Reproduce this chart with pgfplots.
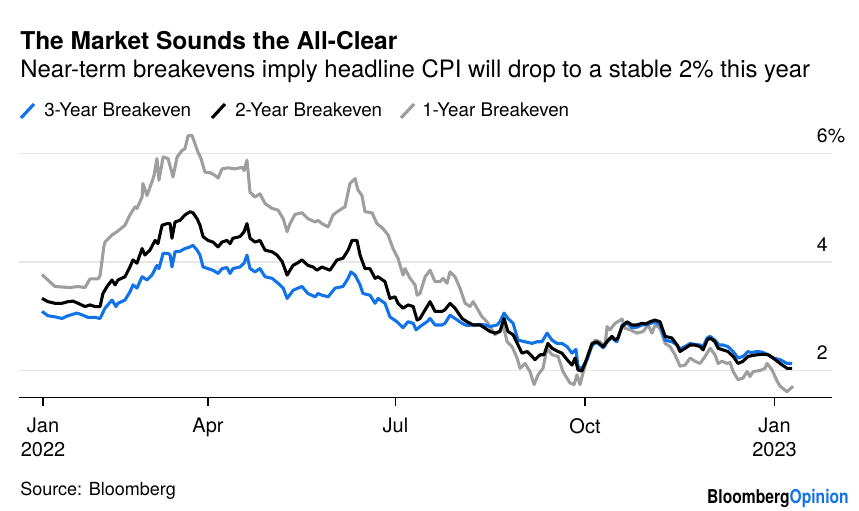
\documentclass[border=0pt]{standalone}
\usepackage{fontspec}
\setmainfont{TeX Gyre Heros}
\newfontfamily\logofont[FakeStretch=0.82]{TeX Gyre Heros}
\usepackage{pgfplots}
\pgfplotsset{compat=1.18}
\usepackage{pgfplotstable}
\definecolor{bblue}{RGB}{18,114,232}
\definecolor{bgray}{RGB}{158,158,158}
\definecolor{bgrid}{RGB}{230,230,230}

% x = days since 2022-01-01, y = breakeven (%)
\pgfplotstableread{
day rate
9.4 3.77
15.7 3.55
23.0 3.53
26.9 3.55
30.3 3.53
32.7 3.69
36.6 3.69
37.6 3.75
39.5 4.30
40.0 4.37
43.4 4.50
45.8 4.56
49.7 4.68
52.1 4.87
54.6 5.02
55.5 4.99
58.0 5.20
58.4 5.45
60.4 5.23
62.8 5.48
63.8 5.60
65.2 5.91
66.2 5.51
68.2 5.94
70.6 5.91
73.0 5.57
75.0 5.94
77.4 6.06
78.8 6.09
80.3 6.33
82.2 6.34
83.7 6.18
85.1 6.03
86.6 5.91
88.5 5.66
91.0 5.65
93.4 5.60
94.9 5.55
96.8 5.72
99.7 5.74
103.1 5.72
106.5 5.75
107.5 5.69
108.9 5.88
110.4 5.29
112.8 5.20
115.2 5.26
117.7 5.08
121.1 4.99
124.0 4.96
126.5 4.80
128.4 4.56
129.8 4.71
132.2 4.88
135.6 4.91
138.5 4.80
142.0 4.74
143.4 4.77
145.3 4.71
148.3 4.65
150.7 4.87
153.1 4.94
156.5 5.02
158.9 5.45
161.4 5.54
162.8 5.33
164.7 5.23
166.2 4.93
169.6 4.91
172.0 4.71
174.9 4.62
177.4 4.50
179.8 4.25
182.2 4.07
184.7 3.76
185.6 3.88
188.1 3.70
190.5 3.58
191.5 3.39
192.9 3.42
195.4 3.73
197.8 3.85
200.2 3.64
202.6 3.64
204.1 3.70
206.0 3.61
207.5 3.82
209.9 3.73
212.3 3.52
214.8 3.24
217.2 3.18
218.7 3.27
220.6 3.15
223.0 2.99
225.4 2.90
227.9 2.75
229.3 2.66
231.7 2.72
233.2 2.84
235.2 2.53
237.6 2.44
240.0 2.23
241.5 2.04
243.9 2.13
246.3 1.98
248.3 1.74
250.2 1.92
252.6 2.04
254.6 2.41
257.0 2.29
259.9 2.26
262.3 1.98
265.7 1.77
267.7 1.74
269.1 1.92
270.6 1.74
272.0 1.95
274.5 2.29
277.9 2.56
280.3 2.53
282.7 2.44
283.7 2.81
285.1 2.75
287.6 2.87
291.0 2.95
292.4 2.78
294.9 2.75
298.3 2.69
301.2 2.72
303.6 2.84
305.5 2.69
307.0 2.84
309.4 2.78
311.9 2.50
314.3 2.44
316.7 2.29
319.1 2.08
321.6 2.10
324.0 2.23
326.4 2.17
328.9 2.13
331.3 2.26
333.7 2.41
336.1 2.29
337.6 2.13
339.5 2.17
342.0 2.13
343.4 2.15
344.9 1.98
347.3 1.83
349.7 1.86
351.7 1.98
353.1 1.89
354.6 1.98
358.0 2.00
360.4 2.04
361.4 2.13
363.8 2.01
366.3 1.80
367.7 1.71
371.1 1.61
374.0 1.71
}\oneyear

\pgfplotstableread{
day rate
9.4 3.33
12.3 3.27
15.7 3.24
19.1 3.24
22.0 3.27
24.5 3.28
26.9 3.24
30.3 3.18
32.7 3.21
35.1 3.18
37.6 3.18
39.0 3.42
41.0 3.55
43.4 3.67
44.9 3.58
46.3 3.67
49.7 3.73
52.1 3.91
53.6 4.04
55.5 3.98
58.0 4.25
59.4 4.13
61.8 4.22
64.3 4.40
65.7 4.34
67.7 4.68
70.1 4.71
71.6 4.71
72.5 4.44
74.0 4.74
76.4 4.77
78.8 4.87
81.3 4.93
82.7 4.91
84.7 4.80
86.1 4.68
87.6 4.47
90.0 4.40
92.4 4.37
94.9 4.28
96.8 4.37
99.2 4.40
100.7 4.34
102.1 4.44
105.5 4.47
107.5 4.56
108.9 4.71
110.4 4.44
112.8 4.37
115.2 4.40
117.7 4.22
121.1 4.19
123.5 4.13
126.0 4.01
128.4 3.76
129.8 3.85
131.3 3.94
133.7 3.99
135.6 4.04
138.5 3.94
141.0 3.91
142.9 3.85
145.3 3.91
149.2 3.85
152.6 4.04
155.5 4.07
158.0 4.22
159.9 4.40
162.3 4.40
163.8 4.13
166.2 3.88
168.6 3.88
171.1 3.70
172.5 3.73
175.9 3.64
178.3 3.33
180.8 3.36
182.2 3.24
184.7 3.15
187.1 3.21
189.6 3.18
191.5 2.93
192.9 2.96
195.4 3.12
197.8 3.27
200.2 3.09
203.6 3.09
205.0 3.12
207.5 3.24
209.9 3.15
213.3 2.96
215.7 2.90
218.7 2.84
222.0 2.84
224.5 2.78
226.9 2.72
229.3 2.69
231.7 2.72
233.7 2.96
235.6 2.72
238.1 2.66
240.5 2.47
242.4 2.32
244.9 2.35
247.3 2.26
248.7 2.20
251.2 2.29
253.1 2.29
255.0 2.50
257.0 2.41
259.4 2.36
261.8 2.32
264.3 2.20
266.7 2.10
268.2 2.23
269.6 2.01
271.5 1.99
274.0 2.23
276.4 2.50
278.8 2.53
281.8 2.44
284.2 2.56
286.1 2.63
287.6 2.56
289.0 2.60
291.0 2.81
293.4 2.90
295.8 2.84
298.3 2.84
300.7 2.87
302.6 2.86
304.6 2.90
307.0 2.93
309.4 2.90
311.9 2.63
315.2 2.60
317.7 2.47
319.1 2.35
321.6 2.41
324.0 2.47
326.4 2.47
328.9 2.44
330.3 2.38
332.3 2.56
333.7 2.60
336.1 2.53
337.6 2.41
340.0 2.38
342.4 2.35
344.9 2.26
347.3 2.13
349.7 2.17
352.1 2.26
356.5 2.29
359.5 2.30
361.9 2.29
364.3 2.23
367.7 2.13
371.1 2.04
373.5 2.04
}\twoyear

\pgfplotstableread{
day rate
9.4 3.09
12.3 3.01
15.7 2.99
19.1 2.96
22.0 3.01
26.4 3.06
29.3 3.02
31.7 2.98
35.1 2.98
37.6 2.96
40.0 3.15
43.4 3.30
45.3 3.18
46.3 3.24
49.7 3.30
52.1 3.45
53.6 3.58
55.5 3.52
58.0 3.73
60.4 3.67
62.8 3.76
65.2 3.94
66.2 3.88
68.2 4.16
70.6 4.16
71.6 4.13
72.5 3.91
74.0 4.19
76.4 4.20
78.8 4.25
81.3 4.28
82.7 4.31
84.7 4.22
86.1 4.13
87.6 3.91
90.0 3.88
92.4 3.85
94.9 3.79
96.8 3.88
99.2 3.90
100.7 3.79
102.1 3.88
105.5 3.91
107.5 3.98
108.9 4.13
110.4 3.88
112.8 3.82
115.2 3.88
117.7 3.73
121.1 3.70
124.0 3.61
126.5 3.52
128.4 3.33
129.8 3.40
131.3 3.48
133.7 3.52
135.6 3.55
138.5 3.42
142.0 3.36
143.4 3.42
145.3 3.39
148.3 3.36
151.7 3.52
155.5 3.55
158.0 3.70
159.4 3.82
161.4 3.76
163.8 3.58
165.2 3.42
168.6 3.39
171.1 3.24
172.5 3.33
175.9 3.24
178.3 2.99
181.7 2.90
184.7 2.79
187.1 2.90
189.6 2.87
191.0 2.75
192.9 2.81
196.3 2.90
197.8 2.96
200.2 2.84
203.6 2.84
205.0 2.87
207.5 3.02
209.9 2.96
213.3 2.87
215.7 2.83
218.7 2.84
222.0 2.85
224.5 2.84
226.9 2.81
230.3 2.84
231.7 2.90
233.7 3.06
235.6 2.96
238.1 2.87
240.5 2.56
243.9 2.53
247.3 2.50
249.7 2.53
252.1 2.53
254.6 2.69
257.0 2.56
259.4 2.50
261.8 2.50
264.3 2.44
266.7 2.32
268.6 2.39
269.6 2.07
271.5 2.04
274.0 2.20
276.4 2.47
278.8 2.52
281.8 2.42
284.2 2.55
286.1 2.60
288.5 2.53
291.0 2.84
293.4 2.87
295.8 2.79
298.3 2.80
300.7 2.84
303.6 2.85
307.0 2.90
309.4 2.84
311.9 2.56
315.2 2.53
317.7 2.47
319.1 2.40
321.6 2.44
324.0 2.50
326.4 2.48
328.9 2.47
330.3 2.44
332.3 2.60
333.7 2.63
336.1 2.56
338.1 2.47
340.0 2.47
342.4 2.44
344.9 2.35
347.3 2.23
349.7 2.26
352.1 2.35
353.6 2.33
356.5 2.35
359.0 2.34
361.4 2.30
364.3 2.23
367.7 2.20
371.1 2.13
373.5 2.13
}\threeyear

\begin{document}
\begin{tikzpicture}
\useasboundingbox[fill=white] (0,0) rectangle (644.25pt,382.5pt);
\begin{axis}[
  at={(14.25pt,84.3pt)}, anchor=south west,
  scale only axis, width=609.75pt, height=203.25pt,
  xmin=-1.75, xmax=392.9, ymin=1.5, ymax=6.5,
  axis x line=bottom, axis y line=right,
  axis line style={-},
  x axis line style={line width=1pt, black},
  y axis line style={draw=none},
  tick align=outside,
  major tick length=6pt,
  xtick={9.9,90,181,273,365},
  xticklabels={{Jan\\2022},Apr,Jul,Oct,{Jan\\2023}},
  xtick style={black, line width=1pt},
  xticklabel style={align=center, yshift=-6pt, font=\fontsize{15pt}{18pt}\selectfont, text=black},
  ytick={2,4,6},
  yticklabels={},
  ytick style={draw=none},
  ymajorgrids,
  grid style={bgrid, line width=1pt},
  line join=round,
  clip=false,
]
\addplot[bgray, line width=2.3pt, no markers] table[x=day, y=rate] {\oneyear};
\addplot[bblue, line width=2.3pt, no markers] table[x=day, y=rate] {\threeyear};
\addplot[black, line width=2.3pt, no markers] table[x=day, y=rate] {\twoyear};
\node[anchor=base east, inner sep=0pt, xshift=-3pt, yshift=8.25pt, font=\fontsize{14.6pt}{16pt}\selectfont] at (axis cs:392.9,6) {6\rlap{\%}};
\node[anchor=base east, inner sep=0pt, xshift=-3pt, yshift=8.25pt, font=\fontsize{14.6pt}{16pt}\selectfont] at (axis cs:392.9,4) {4};
\node[anchor=base east, inner sep=0pt, xshift=-3pt, yshift=8.25pt, font=\fontsize{14.6pt}{16pt}\selectfont] at (axis cs:392.9,2) {2};
\end{axis}

\begin{scope}[x=0.75pt, y=-0.75pt, shift={(0,382.5pt)}]
\node[anchor=base west, inner sep=0pt, font=\bfseries\fontsize{18.4pt}{20pt}\selectfont] at (20,50) {The Market Sounds the All-Clear};
\node[anchor=base west, inner sep=0pt, font=\fontsize{17.95pt}{20pt}\selectfont] at (20,78) {Near-term breakevens imply headline CPI will drop to a stable 2\% this year};
\draw[bblue, line width=2.4pt] (21,118) -- (34,104);
\draw[black, line width=2.4pt] (212,118) -- (225,104);
\draw[bgray, line width=2.4pt] (401,118) -- (414,104);
\node[anchor=base west, inner sep=0pt, font=\fontsize{14.1pt}{16pt}\selectfont] at (44,117) {3-Year Breakeven};
\node[anchor=base west, inner sep=0pt, font=\fontsize{14.1pt}{16pt}\selectfont] at (235,117) {2-Year Breakeven};
\node[anchor=base west, inner sep=0pt, font=\fontsize{14.1pt}{16pt}\selectfont] at (422,117) {1-Year Breakeven};
\node[anchor=base west, inner sep=0pt, font=\fontsize{13.5pt}{16pt}\selectfont] at (20,495) {Source: Bloomberg};
\node[anchor=base east, inner sep=0pt, font=\logofont\bfseries\fontsize{14.3pt}{16pt}\selectfont] at (849,503) {Bloomberg\textcolor{bblue}{Opinion}};
\end{scope}
\end{tikzpicture}
\end{document}
